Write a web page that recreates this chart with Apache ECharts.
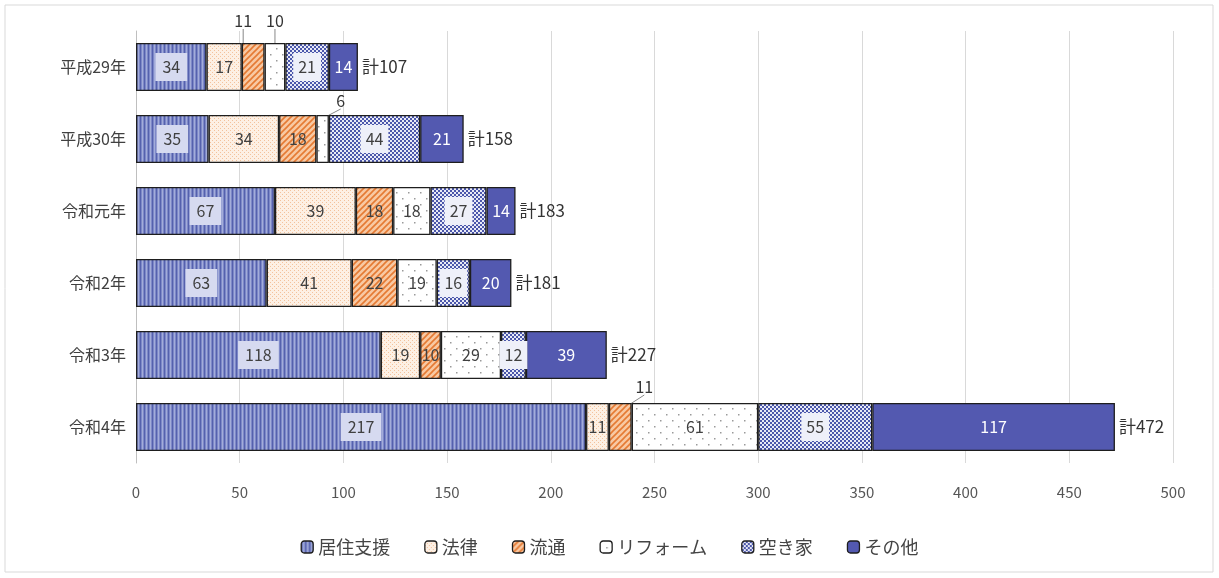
<!DOCTYPE html>
<html><head><meta charset="utf-8">
<script src="https://cdn.jsdelivr.net/npm/echarts@6/dist/echarts.min.js"></script>
<style>html,body{margin:0;padding:0;background:#fff}#c{width:1219px;height:578px}</style>
</head><body><div id="c"></div>
<script>
const categories = ['平成29年','平成30年','令和元年','令和2年','令和3年','令和4年'];
const seriesNames = ['居住支援','法律','流通','リフォーム','空き家','その他'];
const kyoju   = [34, 35, 67, 63, 118, 217];
const horitsu = [17, 34, 39, 41, 19, 11];
const ryutsu  = [11, 18, 18, 22, 10, 11];
const reform  = [10, 6, 18, 19, 29, 61];
const akiya   = [21, 44, 27, 16, 12, 55];
const sonota  = [14, 21, 14, 20, 39, 117];
const totals  = [107, 158, 183, 181, 227, 472];
const xTicks  = [0, 50, 100, 150, 200, 250, 300, 350, 400, 450, 500];

function pat(w, h, draw){const c=document.createElement('canvas');c.width=w;c.height=h;const g=c.getContext('2d');draw(g);return {image:c,repeat:'repeat'};}
const pKyoju = pat(4,4,g=>{g.fillStyle='#7d88c8';g.fillRect(0,0,4,4);g.fillStyle='#5561ad';g.fillRect(0,0,1,4);g.fillStyle='#a3acd9';g.fillRect(2,0,1,4);});
const pHoritsu = pat(4,4,g=>{g.fillStyle='#fdf0e4';g.fillRect(0,0,4,4);g.fillStyle='#f3c29c';g.fillRect(0,0,1,1);g.fillRect(2,2,1,1);});
const pRyutsu = pat(6,6,g=>{g.fillStyle='#f8c9a3';g.fillRect(0,0,6,6);g.strokeStyle='#e57a33';g.lineWidth=1.6;g.beginPath();g.moveTo(-1,7);g.lineTo(7,-1);g.moveTo(-4,4);g.lineTo(4,-4);g.moveTo(2,10);g.lineTo(10,2);g.stroke();});
const pReform = pat(12,12,g=>{g.fillStyle='#ffffff';g.fillRect(0,0,12,12);g.fillStyle='#9a9a9a';g.fillRect(0,0,1.5,1.5);g.fillRect(6,6,1.5,1.5);});
const pAkiya = pat(4,4,g=>{g.fillStyle='#e8eaf6';g.fillRect(0,0,4,4);g.fillStyle='#4b57ab';g.fillRect(0,0,2,2);g.fillRect(2,2,2,2);});
const colors = [pKyoju, pHoritsu, pRyutsu, pReform, pAkiya, '#5359b0'];
const dataArr = [kyoju, horitsu, ryutsu, reform, akiya, sonota];

// labels moved outside the bar (series index -> data index -> offset)
const outside = {2:{0:[-10,-46], 5:[24,-40]}, 3:{0:[0,-46], 1:[18,-38]}};

const series = seriesNames.map((name, si) => ({
  name, type:'bar', stack:'total', barCategoryGap:'33%',
  itemStyle:{color: colors[si], borderColor:'#1e1e1e', borderWidth:1.3},
  data: dataArr[si].map((v, di) => {
    const o = outside[si] && outside[si][di];
    const d = {value:v};
    if (o) d.label = {color:'#333', backgroundColor:'transparent', padding:0};
    return d;
  }),
  label:{
    show:true, position:'inside', fontSize:16, fontFamily:'Noto Sans CJK JP',
    color: si===5 ? '#ffffff' : '#404040',
    backgroundColor: si===0 ? '#d6daf0' : (si===4 ? '#eef0f9' : 'transparent'),
    padding: si===0 ? [6,7] : (si===4 ? [6,5] : 0)
  },
  labelLine:{show:true, lineStyle:{color:'#888', width:1}},
  labelLayout: function(p){
    const o = outside[si] && outside[si][p.dataIndex];
    if (o) return {dx:o[0], dy:o[1]};
    return {};
  }
}));

// totals labels
series.push({
  name:'計', type:'bar', stack:'total', silent:true,
  itemStyle:{color:'transparent'},
  data: totals.map(()=>0),
  label:{show:true, position:'right', fontSize:17, fontFamily:'Noto Sans CJK JP', color:'#333', distance:4,
    formatter: p => '計' + totals[p.dataIndex]}
});

const chart = echarts.init(document.getElementById('c'));
chart.setOption({
  animation:false,
  graphic:[{type:'rect', shape:{x:5,y:5,width:1208,height:567}, style:{fill:'none', stroke:'#d9d9d9', lineWidth:1}}],
  legend:{
    data: seriesNames, bottom:17, left:'center', itemWidth:12, itemHeight:12, itemGap:34,
    textStyle:{fontSize:18, color:'#444', fontFamily:'Noto Sans CJK JP'},
    itemStyle:{borderColor:'#1e1e1e', borderWidth:1.3}
  },
  grid:{left:136, right:46, top:31, bottom:115},
  xAxis:{
    type:'value', min:0, max:500, interval:50,
    axisLine:{show:false}, axisTick:{show:false},
    splitLine:{lineStyle:{color:'#d9d9d9'}},
    axisLabel:{fontSize:15, color:'#555', margin:22, fontFamily:'Noto Sans CJK JP',
      formatter: v => xTicks.includes(v) ? String(v) : ''}
  },
  yAxis:{
    type:'category', data:categories, inverse:true,
    axisLine:{show:true, lineStyle:{color:'#bfbfbf'}}, axisTick:{show:false},
    axisLabel:{fontSize:16, color:'#404040', margin:10, fontFamily:'Noto Sans CJK JP'}
  },
  series
});
</script></body></html>
